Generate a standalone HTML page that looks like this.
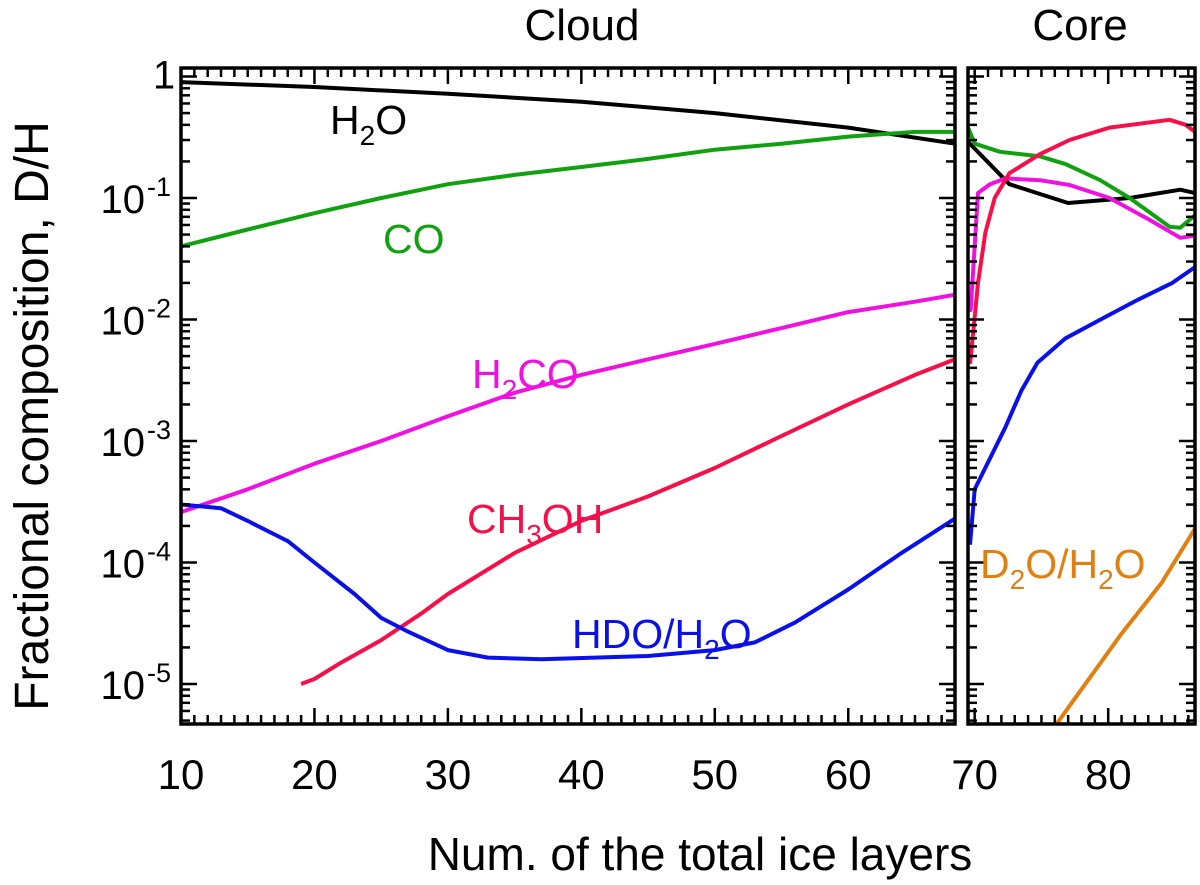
<!DOCTYPE html>
<html><head><meta charset="utf-8"><style>
body{margin:0;background:#fff;}
svg{display:block;font-family:"Liberation Sans","DejaVu Sans",sans-serif;}
</style></head><body>
<svg id="chart" width="1200" height="885" viewBox="0 0 1200 885"></svg>
<script>
// ---- data ----
const h2oCloudX=[10,20,30,40,50,60,68];
const h2oCloudY=[0.9,0.82,0.72,0.62,0.5,0.38,0.28];
const coCloudX=[10,15,20,25,30,35,40,45,50,55,60,65,68];
const coCloudY=[0.04,0.055,0.075,0.1,0.13,0.155,0.18,0.21,0.25,0.28,0.32,0.35,0.35];
const h2coCloudX=[10,15,20,25,30,35,40,45,50,55,60,65,68];
const h2coCloudY=[2.6e-4,4e-4,6.5e-4,1e-3,1.6e-3,2.5e-3,3.5e-3,4.7e-3,6.3e-3,8.5e-3,1.15e-2,1.4e-2,1.6e-2];
const ch3ohCloudX=[19,20,22,25,28,30,35,40,45,50,55,60,65,68];
const ch3ohCloudY=[1e-5,1.1e-5,1.5e-5,2.3e-5,3.8e-5,5.5e-5,1.2e-4,2.2e-4,3.5e-4,6e-4,1.1e-3,2e-3,3.5e-3,4.7e-3];
const hdoCloudX=[10,13,15,18,20,23,25,27,30,33,37,45,50,53,56,60,64,68];
const hdoCloudY=[3e-4,2.8e-4,2.2e-4,1.5e-4,1e-4,5.5e-5,3.5e-5,2.7e-5,1.9e-5,1.65e-5,1.6e-5,1.7e-5,1.9e-5,2.2e-5,3.2e-5,6e-5,1.2e-4,2.3e-4];
const h2oCoreX=[69.5,72.6,77,81.6,85.4,86.5];
const h2oCoreY=[0.29,0.13,0.091,0.1,0.117,0.11];
const coCoreX=[69.5,70,71.9,74.9,76.8,79.4,81.6,84.6,85.4,86.5];
const coCoreY=[0.38,0.28,0.24,0.22,0.19,0.14,0.1,0.058,0.057,0.072];
const h2coCoreX=[69.5,69.7,70.25,71.15,72.3,74.9,77.1,80.1,83.1,85.4,86.5];
const h2coCoreY=[0.013,0.012,0.11,0.13,0.145,0.14,0.128,0.1,0.066,0.047,0.049];
const ch3ohCoreX=[69.65,69.9,70.25,70.8,71.5,72.6,74.9,77.1,80.1,84.6,85.8,86.5];
const ch3ohCoreY=[0.0043,0.008,0.02,0.052,0.1,0.16,0.23,0.3,0.38,0.44,0.4,0.35];
const hdoCoreX=[69.65,70,72.3,73.5,74.7,76.8,79.8,82.2,84.8,86.5];
const hdoCoreY=[1.4e-4,4e-4,1.3e-3,2.6e-3,4.4e-3,7e-3,0.0105,0.0145,0.02,0.027];
const d2oCoreX=[76.2,81.0,84.0,86.5];
const d2oCoreY=[4.8e-6,2.6e-5,6.8e-5,1.9e-4];
const xTicksCloud=[10,20,30,40,50,60];
const xTicksCore=[70,80];
const yExps=[0,-1,-2,-3,-4,-5];

// ---- layout ----
const NS="http://www.w3.org/2000/svg";
const svg=document.getElementById('chart');
const yTop=68,yBot=724;
const P1={x0:181,x1:955,d0:10,d1:68};
const P2={x0:968,x1:1195,d0:69.5,d1:86.5};
function xs(P,v){return P.x0+(v-P.d0)*(P.x1-P.x0)/(P.d1-P.d0);}
function ys(v){return 76.5-Math.log10(v)*121.5;}
function el(tag,attrs,parent){const e=document.createElementNS(NS,tag);for(const k in attrs)e.setAttribute(k,attrs[k]);(parent||svg).appendChild(e);return e;}

const defs=el('defs',{});
[P1,P2].forEach((P,i)=>{const c=el('clipPath',{id:'clip'+i},defs);el('rect',{x:P.x0,y:yTop,width:P.x1-P.x0,height:yBot-yTop},c);});

function series(P,ci,xa,ya,color,name){
  const d=xa.map((x,i)=>(i?'L':'M')+xs(P,x).toFixed(1)+','+ys(ya[i]).toFixed(1)).join(' ');
  const p=el('path',{d:d,fill:'none',stroke:color,'stroke-width':4,'stroke-linejoin':'round','clip-path':'url(#clip'+ci+')'});
  
  
}
const cBlack='#000',cGreen='#10a010',cMag='#f010e0',cRed='#f5104a',cBlue='#0a10e8',cOr='#e08010';
series(P1,0,h2oCloudX,h2oCloudY,cBlack,'h2o-cloud-line');
series(P1,0,coCloudX,coCloudY,cGreen,'co-cloud-line');
series(P1,0,h2coCloudX,h2coCloudY,cMag,'h2co-cloud-line');
series(P1,0,ch3ohCloudX,ch3ohCloudY,cRed,'ch3oh-cloud-line');
series(P1,0,hdoCloudX,hdoCloudY,cBlue,'hdo-cloud-line');
series(P2,1,h2oCoreX,h2oCoreY,cBlack,'h2o-core-line');
series(P2,1,coCoreX,coCoreY,cGreen,'co-core-line');
series(P2,1,h2coCoreX,h2coCoreY,cMag,'h2co-core-line');
series(P2,1,ch3ohCoreX,ch3ohCoreY,cRed,'ch3oh-core-line');
series(P2,1,hdoCoreX,hdoCoreY,cBlue,'hdo-core-line');
series(P2,1,d2oCoreX,d2oCoreY,cOr,'d2o-core-line');

// axes frames and ticks
[P1,P2].forEach((P,pi)=>{
  const f=el('rect',{x:P.x0,y:yTop,width:P.x1-P.x0,height:yBot-yTop,fill:'none',stroke:'#000','stroke-width':3.5});
  
  
  for(let v=Math.ceil(P.d0);v<=P.d1;v++){
    const x=xs(P,v),L=(v%10===0)?16:9;
    el('line',{x1:x,x2:x,y1:yBot,y2:yBot-L,stroke:'#000','stroke-width':2.5});
    el('line',{x1:x,x2:x,y1:yTop,y2:yTop+L,stroke:'#000','stroke-width':2.5});
  }
  for(let e=-6;e<=0;e++){for(let m=1;m<10;m++){
    const y=ys(m*Math.pow(10,e)); if(y<yTop||y>yBot)continue;
    const L=m===1?16:9;
    el('line',{x1:P.x0,x2:P.x0+L,y1:y,y2:y,stroke:'#000','stroke-width':2.5});
    el('line',{x1:P.x1,x2:P.x1-L,y1:y,y2:y,stroke:'#000','stroke-width':2.5});
  }}
});
function text(x,y,str,size,color,name,anchor){
  const t=el('text',{x:x,y:y,'font-size':size,fill:color,'text-anchor':anchor||'middle'});
  t.textContent=str;
  
  
  return t;
}
xTicksCloud.forEach(v=>text(xs(P1,v),789,String(v),42,'#000','x-tick-label'));
xTicksCore.forEach(v=>text(xs(P2,v),789,String(v),42,'#000','x-tick-label'));
yExps.forEach(e=>{
  const y=ys(Math.pow(10,e))+15;
  if(e===0){text(164,y-3,'1',40,'#000','y-tick-label');return;}
  text(145,y,'10',40,'#000','y-tick-label','end');
  const s=el('text',{x:147,y:y-17,'font-size':27,fill:'#000','text-anchor':'start'});
  s.textContent=String(e);
  
  
});
text(582,40,'Cloud',44,'#000','cloud-title');
text(1080,40,'Core',44,'#000','core-title');
text(700,870,'Num. of the total ice layers',46,'#000','x-axis-title');
const yt=text(0,0,'Fractional composition, D/H',48,'#000','y-axis-title');
yt.setAttribute('transform','translate(48,416) rotate(-90)');

function label(x,y,parts,color,name){
  const t=el('text',{x:x,y:y,'font-size':41,fill:color,'text-anchor':'start'});
  
  
  let prevSub=false;
  parts.forEach(p=>{const s=el('tspan',{},t);s.textContent=p[0];
    if(p[1]){s.setAttribute('font-size',28);s.setAttribute('dy',11);prevSub=true;}
    else if(prevSub){s.setAttribute('dy',-11);prevSub=false;} });
}
label(330,134,[['H'],['2',1],['O']],cBlack,'h2o-label');
label(383,253,[['CO']],cGreen,'co-label');
label(472,388,[['H'],['2',1],['CO']],cMag,'h2co-label');
label(467,533,[['CH'],['3',1],['OH']],cRed,'ch3oh-label');
label(572,648,[['HDO/H'],['2',1],['O']],cBlue,'hdo-label');
label(980,578,[['D'],['2',1],['O/H'],['2',1],['O']],cOr,'d2o-label');
</script>
</body></html>
